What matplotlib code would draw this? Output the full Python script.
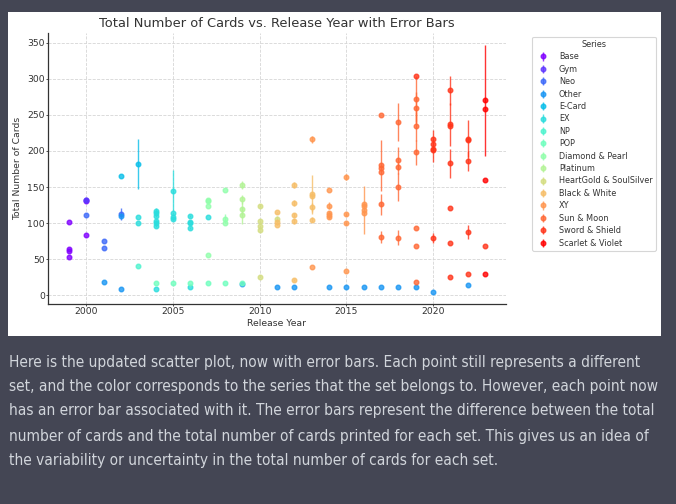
import numpy as np
import matplotlib
matplotlib.use("Agg")
import matplotlib.pyplot as plt
from matplotlib import font_manager
from matplotlib.patches import Rectangle

series_names = ["Base", "Gym", "Neo", "Other", "E-Card", "EX", "NP", "POP",
                "Diamond & Pearl", "Platinum", "HeartGold & SoulSilver",
                "Black & White", "XY", "Sun & Moon", "Sword & Shield",
                "Scarlet & Violet"]

# one entry per set: release year, total cards, (total - printed), series
set_year = [
    1999, 1999, 1999, 1999, 2000, 2000,                          # Base
    2000, 2000,                                                  # Gym
    2000, 2001, 2001, 2002,                                      # Neo
    2001, 2002, 2002, 2009, 2011, 2012, 2014, 2015, 2016, 2017,
    2018, 2019, 2020, 2022,                                      # Other
    2002, 2003,                                                  # E-Card
    2003, 2003, 2004, 2004, 2004, 2004, 2004, 2004, 2004, 2005,
    2005, 2005, 2005, 2006, 2006, 2006, 2006, 2006, 2007,        # EX
    2003,                                                        # NP
    2004, 2005, 2006, 2007, 2008, 2009,                          # POP
    2007, 2007, 2007, 2007, 2008, 2008, 2008,                    # DP
    2009, 2009, 2009, 2009,                                      # Platinum
    2010, 2010, 2010, 2010, 2010, 2011,                          # HGSS
    2011, 2011, 2011, 2012, 2012, 2012, 2012, 2012, 2013, 2013,
    2013, 2013,                                                  # BW
    2013, 2013, 2014, 2014, 2014, 2014, 2014, 2015, 2015, 2015,
    2015, 2016, 2016, 2016, 2016,                                # XY
    2017, 2017, 2017, 2017, 2017, 2017, 2018, 2018, 2018, 2018,
    2018, 2019, 2019, 2019, 2019, 2019, 2019, 2019,              # SM
    2019, 2020, 2020, 2020, 2020, 2020, 2021, 2021, 2021, 2021,
    2021, 2021, 2021, 2022, 2022, 2022, 2022, 2022, 2023,        # SS
    2023, 2023, 2023, 2023,                                      # SV
]
set_total = [
    102, 64, 62, 53, 130, 83,
    132, 132,
    111, 75, 66, 113,
    18, 110, 9, 15, 12, 12, 12, 12, 12, 12,
    12, 12, 5, 14,
    165, 182,
    109, 100, 117, 114, 110, 103, 100, 96, 9, 145,
    114, 108, 106, 110, 101, 100, 93, 11, 108,
    40,
    17, 17, 17, 17, 17, 17,
    132, 130, 124, 56, 146, 106, 100,
    153, 133, 120, 111,
    124, 103, 96, 91, 25, 106,
    115, 102, 98, 153, 128, 111, 103, 21, 140, 138,
    122, 105,
    216, 39, 146, 124, 114, 111, 109, 164, 112, 100,
    34, 126, 124, 118, 114,
    250, 180, 176, 171, 126, 81, 240, 187, 178, 150,
    80, 272, 260, 234, 198, 93, 68, 18,
    304, 216, 209, 203, 201, 80, 284, 237, 234, 183,
    121, 72, 25, 217, 215, 186, 88, 29, 68,
    270, 258, 160, 29,
]
set_err = [
    0, 0, 0, 0, 0, 0,
    0, 0,
    0, 0, 0, 8,
    0, 0, 0, 0, 0, 0, 0, 0, 0, 0,
    0, 0, 0, 0,
    0, 35,
    0, 0, 4, 0, 2, 1, 3, 2, 0, 28,
    1, 1, 1, 1, 0, 0, 1, 0, 0,
    0,
    0, 0, 0, 0, 0, 0,
    0, 0, 0, 0, 0, 6, 0,
    6, 6, 9, 12,
    1, 1, 1, 1, 0, 4,
    1, 1, 1, 4, 4, 3, 4, 1, 27, 3,
    6, 4,
    5, 0, 0, 5, 3, 2, 3, 4, 2, 2,
    0, 1, 1, 33, 2,
    0, 35, 0, 0, 15, 8, 26, 19, 5, 20,
    10, 32, 22, 20, 17, 0, 0, 0,
    0, 13, 0, 0, 16, 7, 20, 30, 0, 20,
    0, 0, 0, 26, 0, 14, 10, 0, 0,
    77, 0, 0, 0,
]
set_series = (["Base"] * 6 + ["Gym"] * 2 + ["Neo"] * 4 + ["Other"] * 14
              + ["E-Card"] * 2 + ["EX"] * 19 + ["NP"] * 1 + ["POP"] * 6
              + ["Diamond & Pearl"] * 7 + ["Platinum"] * 4
              + ["HeartGold & SoulSilver"] * 6 + ["Black & White"] * 12
              + ["XY"] * 15 + ["Sun & Moon"] * 18 + ["Sword & Shield"] * 19
              + ["Scarlet & Violet"] * 4)

paragraph = [
    "Here is the updated scatter plot, now with error bars. Each point still represents a different",
    "set, and the color corresponds to the series that the set belongs to. However, each point now",
    "has an error bar associated with it. The error bars represent the difference between the total",
    "number of cards and the total number of cards printed for each set. This gives us an idea of",
    "the variability or uncertainty in the total number of cards for each set.",
]

W, H = 676, 504
s = 0.665  # the chart was shrunk into the chat window

fig = plt.figure(figsize=(W / 100, H / 100), dpi=100, facecolor="#444654")
fig.patches.append(Rectangle((8 / W, 1 - 336 / H), 653 / W, 324 / H,
                             transform=fig.transFigure, facecolor="white",
                             edgecolor="none", zorder=-5))

ax = fig.add_axes([48.3 / W, 1 - 304 / H, (505.7 - 48.3) / W, (304 - 32.6) / H])
ax.set_zorder(2)
ax.patch.set_alpha(0)

years = np.array(set_year)
totals = np.array(set_total)
errs = np.array(set_err)
groups = np.array(set_series)
colors = plt.cm.rainbow(np.linspace(0, 1, len(series_names)))

for name, c in zip(series_names, colors):
    m = groups == name
    ax.errorbar(years[m], totals[m], yerr=errs[m], fmt="o", color=c,
                markersize=3.3, elinewidth=1.0, alpha=0.8, label=name)

ax.set_xticks([2000, 2005, 2010, 2015, 2020])
ax.set_yticks(range(0, 351, 50))
ax.grid(True, linestyle="--", color="#d6d6d6", linewidth=0.6)
ax.set_axisbelow(True)
for side in ["top", "right"]:
    ax.spines[side].set_visible(False)
for side in ["left", "bottom"]:
    ax.spines[side].set_color("#333333")
    ax.spines[side].set_linewidth(0.9)
ax.tick_params(labelsize=10 * s, colors="#333333", length=1.5, width=0.6, pad=1.0)

ax.set_title("Total Number of Cards vs. Release Year with Error Bars",
             fontsize=9.4, color="#333333", pad=4)
ax.set_xlabel("Release Year", fontsize=10 * s, color="#333333", labelpad=2)
ax.set_ylabel("Total Number of Cards", fontsize=10 * s, color="#333333", labelpad=3.5)

leg = ax.legend(title="Series", loc="upper left", bbox_to_anchor=(1.0575, 0.985),
                borderaxespad=0, fontsize=5.85, title_fontsize=5.85,
                labelspacing=0.42, handletextpad=0.9, frameon=True)
leg.get_frame().set_edgecolor("#cccccc")
leg.get_frame().set_linewidth(0.8)
for t in leg.get_texts():
    t.set_color("#333333")
leg.get_title().set_color("#333333")

# chat text under the picture, in a narrow face when one is installed
fonts = font_manager.fontManager.ttflist
names = {f.name for f in fonts}
text_kw = {"family": "Roboto"}
if "Liberation Sans Narrow" in names:
    text_kw = {"family": "Liberation Sans Narrow"}
elif any(f.name == "DejaVu Sans" and f.stretch == "condensed" for f in fonts):
    text_kw = {"family": "DejaVu Sans", "stretch": "condensed"}

line_y = [362, 386, 411, 436, 461]
texts = [fig.text(9 / W, 1 - y / H, line, color="#d1d5db", fontsize=11,
                  va="center", ha="left", **text_kw)
         for line, y in zip(paragraph, line_y)]
r = fig.canvas.get_renderer()
wid = texts[1].get_window_extent(r).width
fs = 11 * (659 - 9) / wid
for t in texts:
    t.set_fontsize(fs)

fig.savefig("out.png", dpi=100, facecolor=fig.get_facecolor())
